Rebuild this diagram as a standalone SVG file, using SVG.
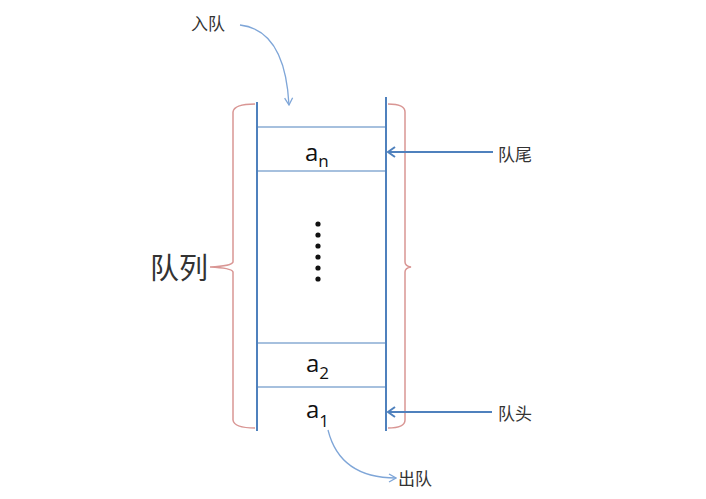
<svg xmlns="http://www.w3.org/2000/svg" width="706" height="499" viewBox="0 0 706 499">
<style>
.q{stroke:#4F81BD;stroke-width:2;fill:none}
.cell{stroke:#4F81BD;stroke-width:1.2;fill:none}
.br{stroke:#D99694;stroke-width:1.5;fill:none}
.ar{stroke:#4F81BD;stroke-width:2;fill:none}
.cv{stroke:#7FA6D8;stroke-width:1.3;fill:none}
.cjk{font-family:"Noto Sans CJK SC","Noto Sans",sans-serif;fill:#333}
.el{font-family:"Open Sans","Liberation Sans",sans-serif;fill:#111;font-size:24px}
.sub{font-size:17px}
</style>
<defs>
<marker id="ah" markerWidth="12" markerHeight="12" refX="10" refY="6" orient="auto" markerUnits="userSpaceOnUse">
<path d="M3,1 L10,6 L3,11" stroke="#4F81BD" stroke-width="2" fill="none"/>
</marker>
<marker id="ch" markerWidth="10" markerHeight="10" refX="9" refY="5" orient="auto" markerUnits="userSpaceOnUse">
<path d="M2,1 L9,5 L2,9" stroke="#7FA6D8" stroke-width="1.3" fill="none"/>
</marker>
</defs>
<rect width="706" height="499" fill="#fff"/>
<g id="queue">
<line class="q" x1="257" y1="102" x2="257" y2="431"/>
<line class="q" x1="386" y1="97" x2="386" y2="431"/>
<line class="cell" x1="257" y1="127" x2="386" y2="127"/>
<line class="cell" x1="257" y1="171" x2="386" y2="171"/>
<line class="cell" x1="257" y1="343" x2="386" y2="343"/>
<line class="cell" x1="257" y1="387" x2="386" y2="387"/>
</g>
<g id="an"><text class="el" x="305" y="161">a<tspan class="sub" dy="6">n</tspan></text></g>
<g id="dots" fill="#111">
<circle cx="318" cy="224" r="2.6"/><circle cx="318" cy="235" r="2.6"/><circle cx="318" cy="246" r="2.6"/>
<circle cx="318" cy="257" r="2.6"/><circle cx="318" cy="268" r="2.6"/><circle cx="318" cy="279" r="2.6"/>
</g>
<g id="a2"><text class="el" x="306" y="372">a<tspan class="sub" dy="7">2</tspan></text></g>
<g id="a1"><text class="el" x="306" y="418">a<tspan class="sub" dy="9">1</tspan></text></g>
<g id="brace-left">
<path class="br" d="M255,104 Q234,104 233,112 L233,262 Q232,266 210,267 Q232,268 233,272 L233,420 Q234,428 255,428"/>
</g>
<g id="brace-right">
<path class="br" d="M388,104 Q405,104 405,112 L405,262 Q405,266 411,267 Q405,268 405,272 L405,420 Q405,428 388,428"/>
</g>
<g id="label-queue"><text class="cjk" x="150" y="279" font-size="29">队列</text></g>
<g id="label-tail"><text class="cjk" x="498" y="161" font-size="17">队尾</text></g>
<g id="label-head"><text class="cjk" x="498" y="420" font-size="17">队头</text></g>
<g id="label-enqueue"><text class="cjk" x="191" y="30" font-size="17">入队</text></g>
<g id="label-dequeue"><text class="cjk" x="398" y="485" font-size="17">出队</text></g>
<g id="connectors">
<line class="ar" x1="493" y1="152" x2="388" y2="152" marker-end="url(#ah)"/>
<line class="ar" x1="492" y1="412" x2="388" y2="412" marker-end="url(#ah)"/>
<path class="cv" d="M240,25 Q285,30 289,105" marker-end="url(#ch)"/>
<path class="cv" d="M328,430 Q340,478 396,478" marker-end="url(#ch)"/>
</g>
</svg>
